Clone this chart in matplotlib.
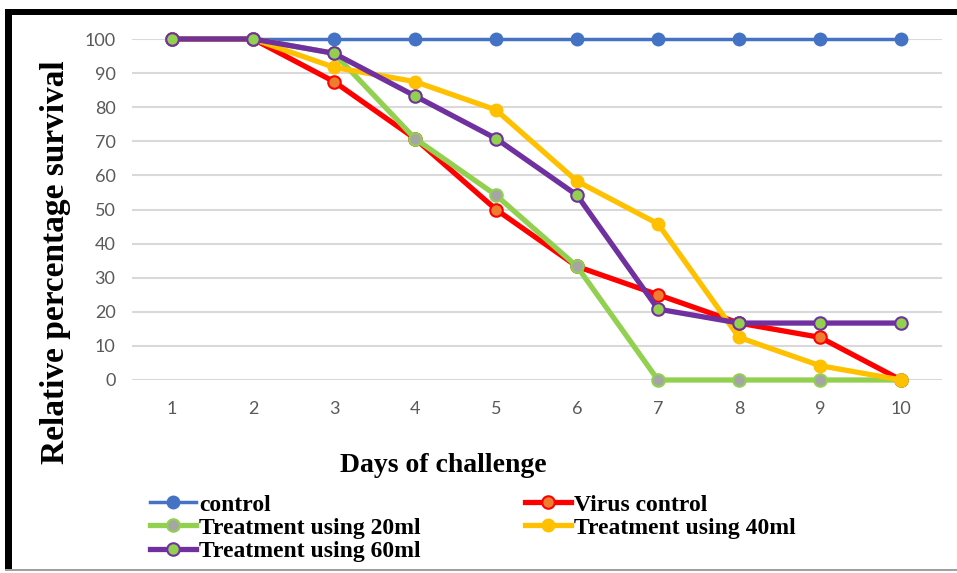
import numpy as np
import matplotlib
matplotlib.use("Agg")
import matplotlib.pyplot as plt
from matplotlib.patches import Rectangle

days = [1, 2, 3, 4, 5, 6, 7, 8, 9, 10]
control = [100, 100, 100, 100, 100, 100, 100, 100, 100, 100]
virus_control = [100, 100, 87.5, 70.8, 50, 33.3, 25, 16.7, 12.5, 0]
treat_20ml = [100, 100, 95.8, 70.8, 54.2, 33.3, 0, 0, 0, 0]
treat_40ml = [100, 100, 91.7, 87.5, 79.2, 58.3, 45.8, 12.5, 4.2, 0]
treat_60ml = [100, 100, 95.8, 83.3, 70.8, 54.2, 20.8, 16.7, 16.7, 16.7]
yticks = [0, 10, 20, 30, 40, 50, 60, 70, 80, 90, 100]

W, H = 957, 573
fig = plt.figure(figsize=(W / 100, H / 100), dpi=100)
ax = fig.add_axes([131.5 / W, 1 - 380 / H, 810 / W, 341 / H])

# draw order: back to front as in the original
lines = {}
lines["control"] = ax.plot(days, control, color="#4472C4", lw=2.5, marker="o", ms=9,
                           mfc="#4472C4", mec="#4472C4", clip_on=False, label="control")[0]
lines["virus"] = ax.plot(days, virus_control, color="#FF0000", lw=3.8, marker="o", ms=9,
                         mfc="#ED7D31", mec="#FF0000", mew=1.5, clip_on=False,
                         label="Virus control")[0]
lines["20"] = ax.plot(days, treat_20ml, color="#92D050", lw=3.8, marker="o", ms=9,
                      mfc="#A5A5A5", mec="#92D050", mew=1.5, clip_on=False,
                      label="Treatment using 20ml")[0]
lines["40"] = ax.plot(days, treat_40ml, color="#FFC000", lw=3.8, marker="o", ms=9,
                      mfc="#FFC000", mec="#FFC000", clip_on=False,
                      label="Treatment using 40ml")[0]
lines["60"] = ax.plot(days, treat_60ml, color="#7030A0", lw=3.8, marker="o", ms=9,
                      mfc="#92D050", mec="#7030A0", mew=1.5, clip_on=False,
                      label="Treatment using 60ml")[0]

ax.set_xlim(0.5, 10.5)
ax.set_ylim(0, 100)
ax.set_xticks(days)
ax.set_yticks(yticks)
ax.grid(axis="y", color="#D9D9D9", lw=1.5, zorder=0)
ax.set_axisbelow(True)
for s in ax.spines.values():
    s.set_visible(False)
ax.tick_params(length=0, labelsize=13, labelcolor="#595959")
ax.tick_params(axis="y", pad=11.5)
ax.tick_params(axis="x", pad=15)
for lab in ax.get_xticklabels() + ax.get_yticklabels():
    lab.set_family("Lato")

fig.text(56 / W, 1 - 262 / H, "Relative percentage survival", rotation=90,
         ha="center", va="center", family="Liberation Serif", weight="bold", fontsize=24)
fig.text(443 / W, 1 - 465 / H, "Days of challenge", ha="center", va="center",
         family="Liberation Serif", weight="bold", fontsize=20)

order = ["control", "20", "60", "virus", "40"]
fig.legend([lines[k] for k in order], [lines[k].get_label() for k in order],
           loc="upper left", bbox_to_anchor=(150 / W, 1 - 494 / H), ncol=2,
           frameon=False, borderpad=0, borderaxespad=0, handlelength=1.95,
           handletextpad=0.13, columnspacing=4.4, labelspacing=0.07,
           prop={"family": "Liberation Serif", "weight": "bold", "size": 17})

# outer frame: thick black left and top, thin gray bottom
fig.add_artist(Rectangle((5 / W, 3 / H), 7 / W, 561 / H, transform=fig.transFigure,
                         color="black", lw=0))
fig.add_artist(Rectangle((5 / W, 1 - 15 / H), 1, 6 / H, transform=fig.transFigure,
                         color="black", lw=0))
fig.add_artist(Rectangle((5 / W, 2 / H), 1, 2 / H, transform=fig.transFigure,
                         color="#A0A0A0", lw=0))

fig.savefig("out.png", dpi=100)
